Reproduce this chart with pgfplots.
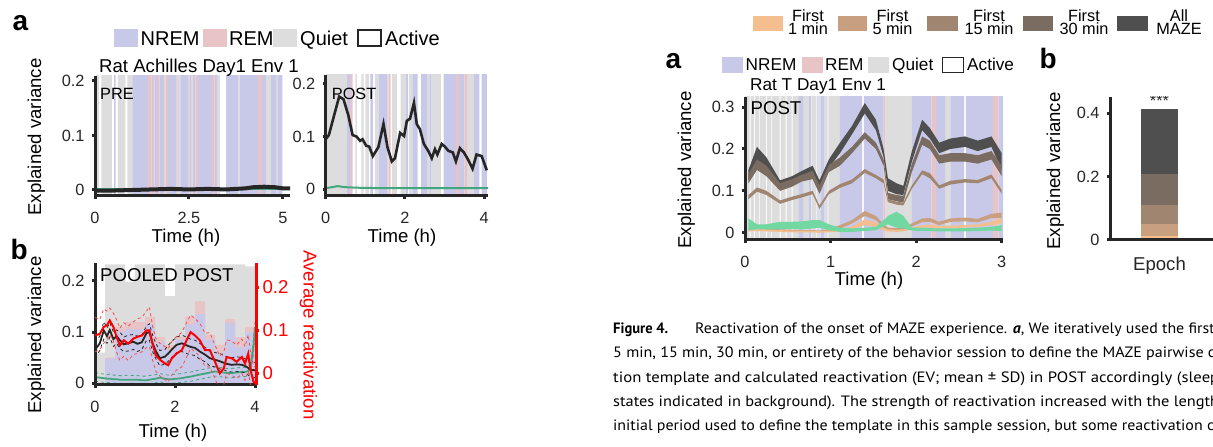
\documentclass[border=0pt]{standalone}
\usepackage{fontspec}
\setmainfont{Liberation Sans}
\newfontfamily\capfont{PT Sans}
\usepackage{graphicx}
\usepackage{pgfplots}
\pgfplotsset{compat=1.18}
\usepackage{pgfplotstable}

\definecolor{nrem}{RGB}{200,200,232}
\definecolor{rem}{RGB}{232,196,198}
\definecolor{quiet}{RGB}{221,221,221}
\definecolor{axc}{RGB}{38,38,38}
\definecolor{grn}{RGB}{66,166,126}
\definecolor{mint}{RGB}{112,216,160}
\definecolor{m1}{RGB}{245,190,143}
\definecolor{m5}{RGB}{201,160,127}
\definecolor{m15}{RGB}{160,134,112}
\definecolor{m30}{RGB}{122,108,96}
\definecolor{mall}{RGB}{79,79,79}

\newcommand\tk{\fontsize{16.3}{18}\selectfont}
\newcommand\lb{\fontsize{18.6}{20}\selectfont}
\newcommand\lga{\fontsize{20}{22}\selectfont}
\newcommand\lgb{\fontsize{17.2}{19}\selectfont}
\newcommand\pl{\fontsize{28}{30}\selectfont\bfseries}

\pgfplotsset{
  panel/.style={
    scale only axis, anchor=south west, clip=true, axis on top,
    axis lines*=left,
    axis line style={line width=3pt, draw=axc},
    tick align=outside, major tick length=3pt,
    tick style={line width=3pt, draw=axc},
    tick label style={font=\tk, text=axc},
    xticklabel style={yshift=-10pt},
    yticklabel style={xshift=-4pt},
    /pgf/number format/assume math mode=true,
    scaled ticks=false,
  },
  band/.style={const plot, draw=none, fill=#1, forget plot},
}

% pooled POST: time, black EV (mean, +SD, -SD), red reactivation, green control
\pgfplotstableread{
x    bm    bu    bl    rm     ru    rl     gm    gu    gl
0.00 0.065 0.080 0.050 0.088  0.130 0.050  0.012 0.021 0.004
0.12 0.078 0.092 0.064 0.092  0.125 0.055  0.011 0.019 0.003
0.22 0.103 0.120 0.086 0.108  0.150 0.070  0.010 0.018 0.002
0.30 0.092 0.108 0.078 0.112  0.145 0.078  0.009 0.017 0.002
0.37 0.104 0.118 0.090 0.123  0.152 0.090  0.009 0.018 0.001
0.46 0.086 0.100 0.072 0.108  0.140 0.075  0.008 0.016 0.000
0.54 0.092 0.104 0.078 0.085  0.125 0.050  0.008 0.016 0.001
0.62 0.084 0.100 0.068 0.065  0.105 0.030  0.007 0.015 0.000
0.72 0.076 0.090 0.062 0.077  0.118 0.040  0.007 0.015 -0.001
0.83 0.078 0.094 0.063 0.069  0.110 0.030  0.007 0.016 0.000
0.96 0.081 0.095 0.066 0.081  0.120 0.044  0.007 0.015 0.000
1.06 0.077 0.092 0.062 0.085  0.127 0.046  0.007 0.015 -0.001
1.17 0.080 0.094 0.066 0.088  0.130 0.050  0.006 0.014 -0.002
1.29 0.098 0.112 0.084 0.100  0.145 0.060  0.006 0.014 -0.002
1.36 0.100 0.116 0.084 0.100  0.155 0.062  0.007 0.015 -0.001
1.44 0.078 0.094 0.062 0.069  0.110 0.030  0.008 0.016 0.000
1.52 0.063 0.078 0.048 0.042  0.082 0.005  0.009 0.017 0.001
1.62 0.049 0.064 0.034 0.032  0.070 -0.006 0.011 0.019 0.003
1.75 0.052 0.066 0.038 0.023  0.062 -0.015 0.009 0.017 0.001
1.83 0.058 0.074 0.043 0.019  0.058 -0.020 0.008 0.016 0.000
1.92 0.066 0.082 0.050 0.035  0.074 -0.004 0.008 0.017 0.000
2.04 0.075 0.090 0.060 0.046  0.086 0.008  0.009 0.018 0.001
2.17 0.078 0.094 0.062 0.054  0.095 0.015  0.010 0.019 0.002
2.29 0.074 0.090 0.058 0.077  0.118 0.038  0.012 0.021 0.003
2.39 0.071 0.086 0.056 0.096  0.136 0.058  0.013 0.022 0.004
2.50 0.069 0.084 0.054 0.088  0.127 0.050  0.015 0.024 0.006
2.62 0.062 0.078 0.047 0.077  0.117 0.040  0.017 0.026 0.008
2.75 0.056 0.070 0.042 0.054  0.093 0.016  0.019 0.028 0.010
2.87 0.049 0.064 0.034 0.054  0.095 0.015  0.021 0.030 0.012
3.00 0.046 0.060 0.032 0.027  0.066 -0.012 0.023 0.032 0.014
3.12 0.043 0.058 0.028 0.000  0.040 -0.040 0.022 0.031 0.013
3.22 0.040 0.054 0.026 0.012  0.050 -0.026 0.021 0.030 0.012
3.29 0.038 0.052 0.024 0.038  0.078 0.000  0.020 0.029 0.011
3.42 0.036 0.050 0.022 0.035  0.075 -0.004 0.020 0.029 0.011
3.54 0.037 0.052 0.023 0.027  0.066 -0.012 0.021 0.030 0.012
3.67 0.036 0.050 0.022 0.038  0.080 0.000  0.022 0.031 0.013
3.75 0.034 0.048 0.020 0.023  0.062 -0.016 0.022 0.031 0.013
3.83 0.030 0.044 0.016 0.046  0.090 0.006  0.024 0.033 0.015
3.89 0.026 0.040 0.012 0.008  0.050 -0.030 0.030 0.040 0.020
3.96 0.026 0.040 0.012 -0.019 0.020 -0.060 0.070 0.085 0.055
4.00 0.025 0.040 0.011 -0.023 0.015 -0.065 0.110 0.120 0.100
}\tabPool

% Rat T POST bands (mean +/- SD): upper edge left to right, then lower edge right to left
% a = all MAZE, t = first 30 min, f = 15 min, v = 5 min, o = 1 min, g = control
\pgfplotstableread{
x    a     t     f     v     o     g
0.04 0.150 0.140 0.090 0.010 0.008 0.034
0.14 0.205 0.175 0.108 0.012 0.009 0.020
0.25 0.180 0.160 0.100 0.011 0.008 0.020
0.41 0.125 0.118 0.077 0.008 0.006 0.026
0.55 0.135 0.128 0.086 0.007 0.005 0.026
0.66 0.147 0.138 0.092 0.006 0.005 0.027
0.79 0.160 0.148 0.100 0.006 0.005 0.030
0.87 0.125 0.113 0.065 0.005 0.004 0.030
0.98 0.175 0.162 0.100 0.008 0.005 0.020
1.11 0.215 0.180 0.116 0.018 0.008 0.012
1.25 0.255 0.205 0.127 0.030 0.015 0.010
1.40 0.310 0.240 0.152 0.052 0.032 0.012
1.53 0.270 0.215 0.138 0.040 0.025 0.014
1.62 0.200 0.175 0.127 0.020 0.012 0.030
1.67 0.130 0.095 0.080 0.012 0.008 0.040
1.77 0.118 0.090 0.074 0.011 0.007 0.050
1.85 0.112 0.088 0.072 0.012 0.008 0.040
1.95 0.195 0.165 0.113 0.022 0.013 0.012
2.07 0.270 0.230 0.149 0.034 0.018 0.012
2.16 0.250 0.220 0.142 0.035 0.019 0.011
2.27 0.215 0.185 0.113 0.026 0.016 0.010
2.40 0.225 0.190 0.124 0.034 0.017 0.010
2.57 0.230 0.190 0.128 0.036 0.018 0.011
2.72 0.220 0.185 0.126 0.033 0.020 0.012
2.88 0.230 0.195 0.139 0.045 0.026 0.014
3.00 0.190 0.160 0.102 0.048 0.034 0.018
3.00 0.150 0.135 0.093 0.035 0.022 0.004
2.88 0.205 0.175 0.130 0.035 0.018 0.005
2.72 0.195 0.165 0.118 0.025 0.014 0.004
2.57 0.205 0.170 0.120 0.027 0.012 0.003
2.40 0.200 0.170 0.115 0.026 0.011 0.003
2.27 0.190 0.165 0.105 0.018 0.010 0.003
2.16 0.225 0.200 0.130 0.026 0.012 0.004
2.07 0.245 0.210 0.140 0.025 0.012 0.004
1.95 0.170 0.145 0.105 0.015 0.008 0.005
1.85 0.090 0.072 0.065 0.006 0.003 0.010
1.77 0.092 0.075 0.067 0.005 0.002 0.012
1.67 0.100 0.080 0.073 0.006 0.003 0.020
1.62 0.180 0.160 0.118 0.012 0.006 0.015
1.53 0.245 0.200 0.130 0.030 0.014 0.006
1.40 0.285 0.225 0.143 0.040 0.018 0.004
1.25 0.235 0.190 0.118 0.022 0.008 0.002
1.11 0.190 0.160 0.107 0.010 0.003 0.002
0.98 0.155 0.145 0.092 0.003 0.001 0.006
0.87 0.100 0.093 0.057 0.001 0.000 0.012
0.79 0.138 0.128 0.092 0.002 0.001 0.010
0.66 0.130 0.122 0.084 0.002 0.001 0.008
0.55 0.115 0.110 0.078 0.002 0.001 0.009
0.41 0.105 0.100 0.069 0.003 0.002 0.008
0.25 0.150 0.135 0.090 0.005 0.003 0.008
0.14 0.170 0.150 0.098 0.006 0.004 0.008
0.04 0.125 0.118 0.080 0.004 0.003 0.006
}\tabT

\begin{document}
\begin{tikzpicture}[x=1pt,y=1pt]

% ---------- a, PRE ----------
\begin{axis}[panel, at={(95pt,251pt)}, width=195pt, height=120pt,
  xmin=0, xmax=5.19, ymin=-0.011, ymax=0.209,
  xtick={0,2.5,5}, ytick={0,0.1,0.2}]
\addplot[band=quiet] coordinates {(0.02,-1)(0.02,1)(0.10,-1)(0.17,1)(0.45,-1)(0.61,1)(0.81,-1)
  (0.86,1)(1.01,-1)(1.83,1)(1.87,-1)(2.21,1)(2.27,-1)(2.56,1)(2.61,-1)(3.25,1)(3.33,-1)
  (3.80,1)(3.85,-1)(4.56,1)(4.69,-1)(4.82,1)(4.87,-1)};
\addplot[band=nrem] coordinates {(0.51,-1)(0.51,1)(0.55,-1)(1.01,1)(1.41,-1)(1.50,1)(1.54,-1)
  (1.59,1)(1.68,-1)(1.72,1)(1.83,-1)(1.94,1)(2.17,-1)(2.20,1)(2.21,-1)(2.27,1)(2.49,-1)
  (2.52,1)(2.56,-1)(2.61,1)(2.67,-1)(2.74,1)(3.11,-1)(3.18,1)(3.25,-1)(3.49,1)(3.80,-1)
  (3.85,1)(4.34,-1)(4.44,1)(4.56,-1)(4.69,1)(4.82,-1)(4.87,1)(4.99,-1)};
\addplot[band=rem] coordinates {(1.41,-1)(1.41,1)(1.50,-1)(1.54,1)(1.59,-1)(1.68,1)(1.72,-1)
  (1.87,1)(1.94,-1)(2.17,1)(2.20,-1)(2.49,1)(2.52,-1)(2.67,1)(2.74,-1)(3.11,1)(3.18,-1)
  (4.34,1)(4.44,-1)};
\addplot[grn, line width=2pt] coordinates {(0,0.001)(2,0.001)(5.19,0.001)};
\addplot[axc, line width=4pt] coordinates {(0,-0.001)(0.5,-0.001)(1.0,0.0)(1.5,0.001)
  (2.0,0.002)(2.5,0.001)(3.0,0.002)(3.5,0.001)(4.0,0.003)(4.2,0.005)(4.5,0.006)(4.8,0.005)
  (5.0,0.003)(5.19,0.003)};
\end{axis}

% ---------- a, POST ----------
\begin{axis}[panel, at={(325.7pt,251pt)}, width=162.3pt, height=121pt,
  xmin=0, xmax=4.10, ymin=-0.0127, ymax=0.217,
  xtick={0,2,4}, ytick={0,0.1,0.2}]
\addplot[band=quiet] coordinates {(0.01,-1)(0.01,1)(0.54,-1)(0.75,1)(0.79,-1)(0.90,1)(0.96,-1)
  (1.00,1)(1.09,-1)(1.24,1)(1.34,-1)(1.55,1)(1.59,-1)(1.68,1)(1.80,-1)(1.89,1)(2.02,-1)
  (2.11,1)(2.19,-1)(2.56,1)(2.62,-1)(2.67,1)(2.91,-1)(3.57,1)(3.75,-1)};
\addplot[band=nrem] coordinates {(0.54,-1)(0.54,1)(0.62,-1)(1.13,1)(1.19,-1)(1.34,1)(1.55,-1)
  (2.02,1)(2.08,-1)(2.19,1)(2.32,-1)(2.41,1)(2.56,-1)(2.62,1)(2.67,-1)(2.98,1)(3.29,-1)
  (3.37,1)(3.50,-1)(3.75,1)(3.88,-1)(3.94,1)(4.07,-1)};
\addplot[band=rem] coordinates {(0.62,-1)(0.62,1)(0.68,-1)(1.59,1)(1.64,-1)(3.29,1)(3.37,-1)
  (3.50,1)(3.57,-1)};
\addplot[grn, line width=2pt] coordinates {(0,0.002)(0.15,0.004)(0.3,0.006)(0.5,0.004)(0.8,0.003)
  (1.5,0.002)(2.5,0.002)(3.5,0.002)(4.1,0.002)};
\addplot[axc, line width=2.6pt] coordinates {(0.0,0.095)(0.08,0.103)(0.19,0.134)(0.34,0.176)
  (0.45,0.171)(0.57,0.141)(0.68,0.103)(0.78,0.100)(0.87,0.092)(0.93,0.095)(1.02,0.083)
  (1.10,0.081)(1.19,0.063)(1.33,0.080)(1.46,0.124)(1.56,0.080)(1.67,0.053)(1.75,0.059)
  (1.88,0.107)(1.98,0.101)(2.05,0.130)(2.13,0.134)(2.23,0.164)(2.30,0.124)(2.38,0.114)
  (2.48,0.086)(2.59,0.073)(2.68,0.059)(2.76,0.076)(2.82,0.066)(2.93,0.086)(3.01,0.081)
  (3.10,0.073)(3.21,0.070)(3.29,0.053)(3.39,0.078)(3.49,0.070)(3.60,0.056)(3.71,0.039)
  (3.81,0.066)(3.94,0.063)(4.07,0.036)};
\end{axis}

% ---------- b, pooled POST (left axis) ----------
\begin{axis}[panel, at={(95pt,62pt)}, width=161pt, height=121.7pt,
  xmin=0, xmax=4.025, ymin=-0.0033, ymax=0.234,
  xtick={0,2,4}, ytick={0,0.1,0.2}]
\addplot[const plot, fill=quiet, draw=none] coordinates {(0,0.06)(0.25,0.232)(0.5,0.232)
  (0.75,0.198)(1,0.232)(1.25,0.232)(1.5,0.232)(1.75,0.17)(2,0.232)(2.25,0.232)(2.5,0.232)
  (2.75,0.232)(3,0.232)(3.25,0.232)(3.5,0.232)(3.75,0.228)(4,0.228)} \closedcycle;
\addplot[const plot, fill=rem, draw=none] coordinates {(0,0)(0.25,0.05)(0.5,0.11)(0.75,0.12)
  (1,0.12)(1.25,0.13)(1.5,0.09)(1.75,0.075)(2,0.09)(2.25,0.13)(2.5,0.16)(2.75,0.095)
  (3,0.075)(3.25,0.125)(3.5,0.09)(3.75,0.11)(4,0.11)} \closedcycle;
\addplot[const plot, fill=nrem, draw=none] coordinates {(0,0)(0.25,0.048)(0.5,0.1)(0.75,0.105)
  (1,0.105)(1.25,0.115)(1.5,0.08)(1.75,0.065)(2,0.085)(2.25,0.115)(2.5,0.135)(2.75,0.085)
  (3,0.06)(3.25,0.118)(3.5,0.07)(3.75,0.1)(4,0.1)} \closedcycle;
\addplot[grn, line width=0.8pt, dashed] table[x=x,y=gu]{\tabPool};
\addplot[grn, line width=0.8pt, dashed] table[x=x,y=gl]{\tabPool};
\addplot[grn, line width=1.8pt] table[x=x,y=gm]{\tabPool};
\addplot[axc, line width=0.8pt, dashed] table[x=x,y=bu]{\tabPool};
\addplot[axc, line width=0.8pt, dashed] table[x=x,y=bl]{\tabPool};
\addplot[axc, line width=1.8pt] table[x=x,y=bm]{\tabPool};
\end{axis}

% ---------- b, pooled POST (right axis, reactivation) ----------
\begin{axis}[scale only axis, anchor=south west, at={(95pt,62pt)}, width=161pt, height=121.7pt,
  xmin=0, xmax=4.025, ymin=-0.027, ymax=0.256,
  axis x line=none, axis y line*=right,
  axis line style={line width=3pt, draw=red},
  tick align=outside, major tick length=3pt,
  tick style={line width=3pt, draw=red},
  ytick={0,0.1,0.2}, yticklabel style={font=\lb, text=red},
  /pgf/number format/assume math mode=true]
\addplot[red!70, line width=0.8pt, dashed] table[x=x,y=ru]{\tabPool};
\addplot[red!70, line width=0.8pt, dashed] table[x=x,y=rl]{\tabPool};
\addplot[red, line width=2pt] table[x=x,y=rm]{\tabPool};
\end{axis}

% ---------- a (right), Rat T POST ----------
\begin{axis}[panel, at={(745pt,207pt)}, width=258pt, height=143.3pt,
  xmin=0, xmax=3.015, ymin=-0.0175, ymax=0.325,
  xtick={0,1,2,3}, ytick={0,0.1,0.2,0.3}]
\addplot[band=quiet] coordinates {(0,-1)(0,1)(0.055,-1)(0.065,1)(0.105,-1)(0.115,1)(0.165,-1)
  (0.175,1)(0.245,-1)(0.255,1)(0.305,-1)(0.315,1)(0.405,-1)(0.415,1)(0.475,-1)(0.485,1)
  (0.545,-1)(0.555,1)(0.63,-1)(0.68,1)(0.735,-1)(0.775,1)(0.835,-1)(0.855,1)(0.875,-1)
  (0.935,1)(0.965,-1)(0.975,1)(1.11,-1)(1.64,1)(1.95,-1)(2.34,1)(2.40,-1)};
\addplot[band=nrem] coordinates {(0.63,-1)(0.63,1)(0.68,-1)(0.74,1)(0.77,-1)(0.84,1)(0.85,-1)
  (0.88,1)(0.93,-1)(1.11,1)(1.37,-1)(1.39,1)(1.62,-1)(1.95,1)(2.18,-1)(2.23,1)(2.34,-1)
  (2.40,1)(2.56,-1)(2.58,1)(2.90,-1)(2.96,1)(3.02,-1)};
\addplot[band=rem] coordinates {(1.62,-1)(1.62,1)(1.64,-1)(2.18,1)(2.23,-1)(2.90,1)(2.96,-1)};
\addplot[fill=mall, draw=none] table[x=x,y=a]{\tabT} -- cycle;
\addplot[fill=m30, draw=none] table[x=x,y=t]{\tabT} -- cycle;
\addplot[fill=m15, draw=none] table[x=x,y=f]{\tabT} -- cycle;
\addplot[fill=m5, draw=none] table[x=x,y=v]{\tabT} -- cycle;
\addplot[fill=m1, draw=none] table[x=x,y=o]{\tabT} -- cycle;
\addplot[fill=mint, draw=none] table[x=x,y=g]{\tabT} -- cycle;
\end{axis}

% ---------- b (right), bar ----------
\begin{axis}[panel, at={(1110pt,207pt)}, width=110pt, height=143.3pt,
  xmin=0, xmax=1, ymin=0, ymax=0.4524,
  xtick={0.45}, xticklabels={Epoch}, xticklabel style={font=\lb},
  x tick style={draw=none}, ytick={0,0.2,0.4}]
\addplot[ybar, bar width=37.6pt, bar shift=0pt, fill=mall, draw=none] coordinates {(0.45,0.414)};
\addplot[ybar, bar width=37.6pt, bar shift=0pt, fill=m30, draw=none] coordinates {(0.45,0.208)};
\addplot[ybar, bar width=37.6pt, bar shift=0pt, fill=m15, draw=none] coordinates {(0.45,0.112)};
\addplot[ybar, bar width=37.6pt, bar shift=0pt, fill=m5, draw=none] coordinates {(0.45,0.050)};
\addplot[ybar, bar width=37.6pt, bar shift=0pt, fill=m1, draw=none] coordinates {(0.45,0.013)};
\node[font=\tk, text=axc] at (axis cs:0.45,0.438) {***};
\end{axis}

% ---------- texts, left figure ----------
\node[anchor=base west, font=\pl] at (9,416.3) {a};
\node[anchor=base west, font=\pl] at (7,187.7) {b};
\fill[nrem] (114,400.3) rectangle (138.3,417.7);
\node[anchor=base west, font=\lga, inner sep=0] at (140.5,401.5) {NREM};
\fill[rem] (203.3,400.3) rectangle (226.7,417.7);
\node[anchor=base west, font=\lga, inner sep=0] at (229,401.5) {REM};
\fill[quiet] (273.3,400.3) rectangle (297,417.7);
\node[anchor=base west, font=\lga, inner sep=0] at (300,401.5) {Quiet};
\draw[axc, line width=1.4pt, fill=white] (358,401) rectangle (381,417);
\node[anchor=base west, font=\lga, inner sep=0] at (385,401.5) {Active};
\node[anchor=base west, font=\lb, inner sep=0] at (99,374.5) {Rat Achilles Day1 Env 1};
\node[anchor=base west, font=\tk, inner sep=0] at (100,347) {PRE};
\node[anchor=base west, font=\tk, inner sep=0] at (331.7,347.7) {POST};
\node[anchor=base, rotate=90, font=\lb, inner sep=0] at (41,310) {Explained variance};
\node[anchor=base, font=\lb, inner sep=0] at (186,204) {Time (h)};
\node[anchor=base, font=\lb, inner sep=0] at (402,204) {Time (h)};
\node[anchor=base west, font=\lb, inner sep=0] at (100,165.3) {POOLED POST};
\node[anchor=base, rotate=90, font=\lb, inner sep=0] at (41,112) {Explained variance};
\node[anchor=base, font=\lb, inner sep=0] at (173,9) {Time (h)};
\node[anchor=base, rotate=-90, font=\lb, text=red, inner sep=0] at (303.5,112) {Average reactivation};

% ---------- texts, right figure ----------
\fill[m1] (752.7,416.3) rectangle (783,431.3);
\fill[m5] (838,416.3) rectangle (866.7,431.3);
\fill[m15] (926.7,416.3) rectangle (958,431.3);
\fill[m30] (1023,416.3) rectangle (1053,431.3);
\fill[mall] (1116.7,416.3) rectangle (1148,431.3);
\foreach \cx/\ta/\tb in {808/First/1 min, 892.5/First/5 min, 989/First/15 min, 1084/First/30 min, 1179/All/MAZE}{
  \node[anchor=north, align=center, inner sep=0, font=\fontsize{16.3}{13.3}\selectfont]
    at (\cx,437.5) {\ta\\\tb};
}
\node[anchor=base west, font=\pl] at (662,378.7) {a};
\node[anchor=base west, font=\pl] at (1036,378.7) {b};
\fill[nrem] (721.7,374.3) rectangle (743.3,390.3);
\node[anchor=base west, font=\lgb, inner sep=0] at (745.5,376.3) {NREM};
\fill[rem] (801.7,374.3) rectangle (822.7,390.3);
\node[anchor=base west, font=\lgb, inner sep=0] at (825,376.3) {REM};
\fill[quiet] (867.7,374.3) rectangle (889.3,390.3);
\node[anchor=base west, font=\lgb, inner sep=0] at (892,376.3) {Quiet};
\draw[axc, line width=1.3pt, fill=white] (942.8,374.8) rectangle (963.5,389.8);
\node[anchor=base west, font=\lgb, inner sep=0] at (967,376.3) {Active};
\node[anchor=base west, font=\lgb, inner sep=0] at (750,356.3) {Rat T Day1 Env 1};
\node[anchor=base west, font=\lb, inner sep=0] at (750.5,332) {POST};
\node[anchor=base, rotate=90, font=\lb, inner sep=0] at (691,277) {Explained variance};
\node[anchor=base, font=\lb, inner sep=0] at (869,161.3) {Time (h)};
\node[anchor=base, rotate=90, font=\lb, inner sep=0] at (1060,276) {Explained variance};

% ---------- caption ----------
\begin{scope}[every node/.style={anchor=base west, inner sep=0, font=\capfont\fontsize{15}{16}\selectfont}]
\node at (613,113.5) {\resizebox{55pt}{\height}{\bfseries Figure 4.}};
\node at (695,113.5) {\resizebox{514pt}{\height}{Reactivation of the onset of MAZE experience. \textbf{\textit{a}}, We iteratively used the firs}t 1 min,};
\node at (613,89.2) {\resizebox{602pt}{\height}{5 min, 15 min, 30 min, or entirety of the behavior session to define the MAZE pairwise c}orrela-};
\node at (613,64.9) {\resizebox{597pt}{\height}{tion template and calculated reactivation (EV; mean ± SD) in POST accordingly (slee}p};
\node at (613,40.6) {\resizebox{597pt}{\height}{states indicated in background). The strength of reactivation increased with the lengt}h of the};
\node at (613,16.3) {\resizebox{601pt}{\height}{initial period used to define the template in this sample session, but some reactivation c}ould};
\end{scope}

\pgfresetboundingbox
\path[use as bounding box] (0,0) rectangle (1213,447);
\end{tikzpicture}
\end{document}
